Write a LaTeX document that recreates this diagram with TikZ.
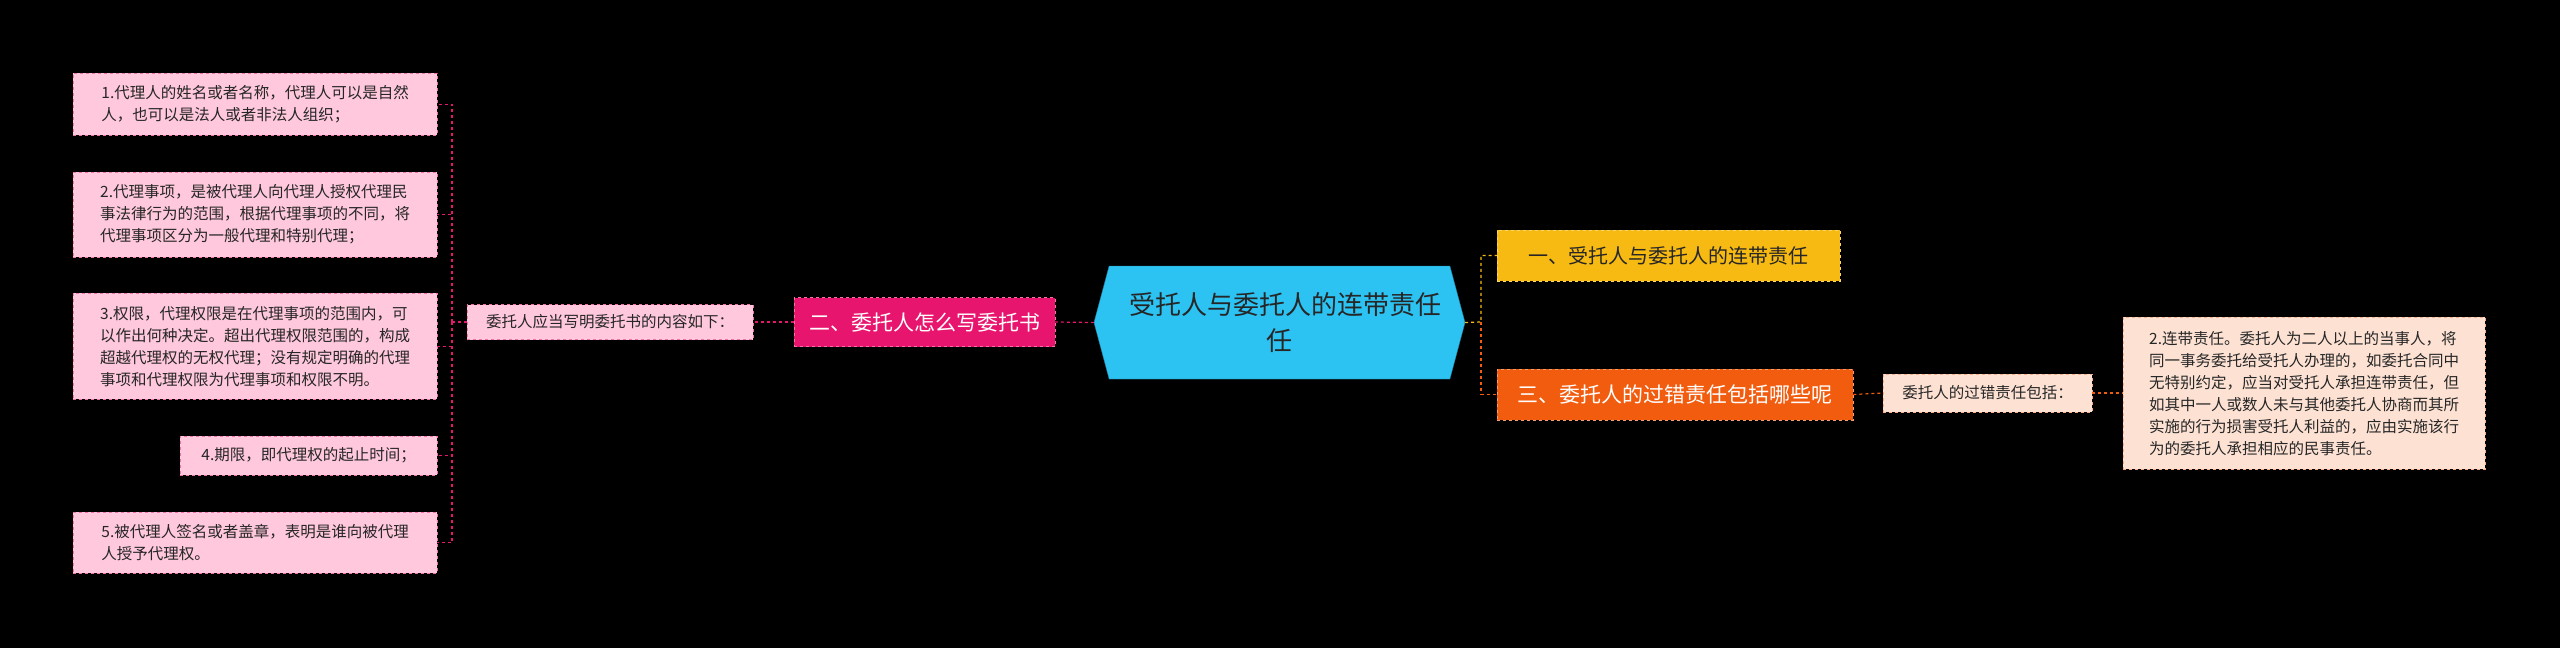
\documentclass[tikz,border=0pt]{standalone}
\usepackage{fontspec}
\setmainfont{Noto Sans CJK SC}
\usetikzlibrary{shapes.geometric,shapes.symbols}
\definecolor{cyanc}{HTML}{2CC3F3}
\definecolor{pinkc}{HTML}{E8156E}
\definecolor{pinkl}{HTML}{FFC8DC}
\definecolor{yel}{HTML}{F7BA12}
\definecolor{ora}{HTML}{F25C0F}
\definecolor{peach}{HTML}{FDE2D4}
\tikzset{
 leaf/.style={draw=pinkc!60, dashed, fill=pinkl, text=black!85, font=\fontsize{15.5}{22}\selectfont, align=left, inner xsep=8pt, inner ysep=6pt, anchor=north west},
 pk/.style={draw=pinkc, dashed, line width=1.2pt},
 orl/.style={draw=ora, dashed, line width=1.2pt},
}
\begin{document}
\begin{tikzpicture}[x=1pt,y=-1pt]
\fill[black] (0,0) rectangle (2560,648);
\useasboundingbox (0,0) rectangle (2560,648);
% center
\node[draw=cyanc!70!black, fill=cyanc, signal, signal to=east and west, signal pointer angle=150, minimum width=371pt, minimum height=113pt, text width=300pt, align=center, font=\fontsize{26}{36}\selectfont, text=black!85, inner sep=0pt] (c) at (1279.5,322.5) {受托人与委托人的连带责任\\任};
% left
\node[fill=pinkc, draw=pinkc!60, dashed, text=white, font=\fontsize{21}{26}\selectfont, minimum width=261pt, minimum height=49pt, inner xsep=4pt] (l1) at (924.5,322) {二、委托人怎么写委托书};
\node[fill=pinkl, draw=pinkc!60, dashed, text=black!85, font=\fontsize{15.5}{20}\selectfont, minimum width=286pt, minimum height=35pt, inner xsep=4pt] (l2) at (610,322) {委托人应当写明委托书的内容如下：};
\node[leaf, minimum width=364pt, minimum height=62pt] (a1) at (73,73) {1.代理人的姓名或者名称，代理人可以是自然\\人，也可以是法人或者非法人组织；};
\node[leaf, minimum width=364pt, minimum height=85pt] (a2) at (73,172) {2.代理事项，是被代理人向代理人授权代理民\\事法律行为的范围，根据代理事项的不同，将\\代理事项区分为一般代理和特别代理；};
\node[leaf, minimum width=364pt, minimum height=106pt] (a3) at (73,293) {3.权限，代理权限是在代理事项的范围内，可\\以作出何种决定。超出代理权限范围的，构成\\超越代理权的无权代理；没有规定明确的代理\\事项和代理权限为代理事项和权限不明。};
\node[leaf, minimum width=257pt, minimum height=39pt, align=right] (a4) at (180,436) {4.期限，即代理权的起止时间；};
\node[leaf, minimum width=364pt, minimum height=61pt] (a5) at (73,512) {5.被代理人签名或者盖章，表明是谁向被代理\\人授予代理权。};
\draw[pk] (c.west) -- (l1.east);
\draw[pk] (l1.west) -- (l2.east);
\coordinate (lj) at (452,322);
\draw[pk] (l2.west) -- (lj);
\foreach \n in {a1,a2,a3,a4,a5} \draw[pk] (lj) |- (\n.east);
% right
\node[fill=yel, draw=yel!60!white, dashed, text=black!85, font=\fontsize{20}{26}\selectfont, minimum width=343pt, minimum height=51pt, inner xsep=4pt, anchor=west] (r1) at (1497,255.5) {一、受托人与委托人的连带责任};
\node[fill=ora, draw=ora!60!white, dashed, text=white, font=\fontsize{21}{26}\selectfont, minimum width=356pt, minimum height=51pt, inner xsep=4pt, anchor=west] (r2) at (1497,394.5) {三、委托人的过错责任包括哪些呢};
\node[fill=peach, draw=ora!50, dashed, text=black!85, font=\fontsize{15.5}{20}\selectfont, minimum width=209pt, minimum height=38pt, inner xsep=4pt, anchor=west] (r3) at (1883,393) {委托人的过错责任包括：};
\node[fill=peach, draw=ora!50, dashed, text=black!85, font=\fontsize{15.5}{22}\selectfont, align=left, minimum width=362pt, minimum height=152pt, inner xsep=8pt, anchor=north west] (r4) at (2123,317) {2.连带责任。委托人为二人以上的当事人，将\\同一事务委托给受托人办理的，如委托合同中\\无特别约定，应当对受托人承担连带责任，但\\如其中一人或数人未与其他委托人协商而其所\\实施的行为损害受托人利益的，应由实施该行\\为的委托人承担相应的民事责任。};
\coordinate (rj) at (1481,322);
\draw[draw=yel, dashed, line width=1.2pt] (c.east) -- (rj) |- (r1.west);
\draw[orl] (rj) |- (r2.west);
\draw[orl] (r2.east) -- (r3.west);
\draw[orl] (r3.east) -- (r4.west |- r3.east);
\end{tikzpicture}
\end{document}
